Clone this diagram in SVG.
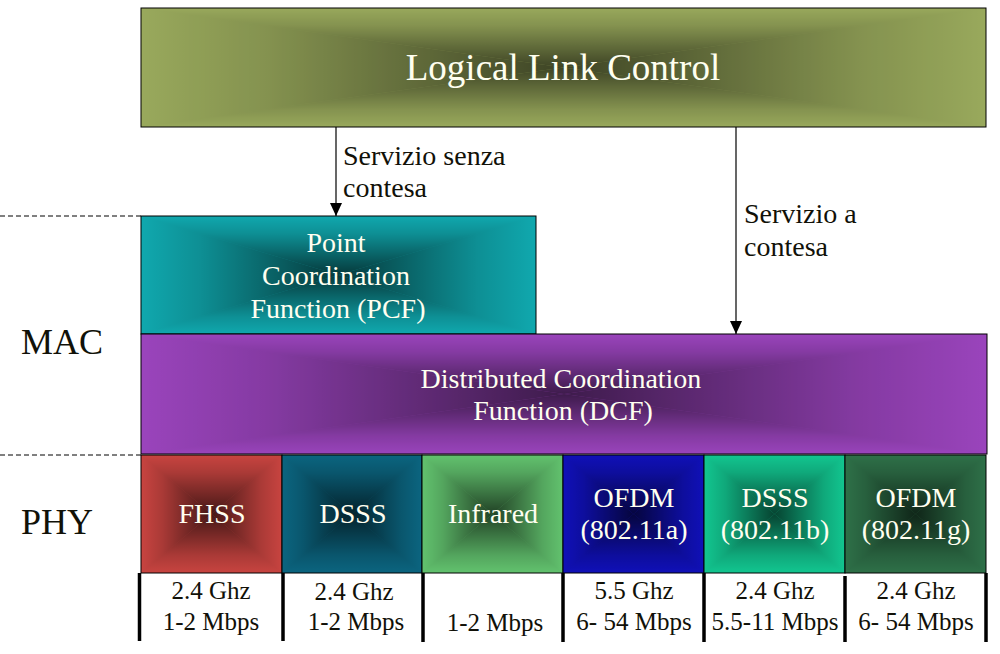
<svg xmlns="http://www.w3.org/2000/svg" width="1000" height="654" viewBox="0 0 1000 654" font-family="Liberation Serif, Times New Roman, serif">
<style>
.box{stroke:#000;stroke-width:1;fill:none}
.lt{fill:#fffff0;text-anchor:middle}
.dk{fill:#111108}
.bt{fill:#111108;text-anchor:middle;font-size:25px}
.sep{stroke:#000;stroke-width:3.5}
.dash{stroke:#000;stroke-width:1;stroke-dasharray:5,3}
.conn{stroke:#000;stroke-width:1.2;fill:none}
</style>
<defs>
<linearGradient id="gT" x1="0" y1="0" x2="0" y2="1"><stop offset="0" stop-color="#000" stop-opacity="0"/><stop offset="0.3" stop-color="#000" stop-opacity="0.15"/><stop offset="1" stop-color="#000" stop-opacity="0.66"/></linearGradient>
<linearGradient id="gB" x1="0" y1="1" x2="0" y2="0"><stop offset="0" stop-color="#000" stop-opacity="0"/><stop offset="0.3" stop-color="#000" stop-opacity="0.15"/><stop offset="1" stop-color="#000" stop-opacity="0.66"/></linearGradient>
<linearGradient id="gL" x1="0" y1="0" x2="1" y2="0"><stop offset="0" stop-color="#000" stop-opacity="0"/><stop offset="0.3" stop-color="#000" stop-opacity="0.15"/><stop offset="1" stop-color="#000" stop-opacity="0.66"/></linearGradient>
<linearGradient id="gR" x1="1" y1="0" x2="0" y2="0"><stop offset="0" stop-color="#000" stop-opacity="0"/><stop offset="0.3" stop-color="#000" stop-opacity="0.15"/><stop offset="1" stop-color="#000" stop-opacity="0.66"/></linearGradient>
<marker id="arr" markerWidth="14" markerHeight="12" refX="13" refY="6" orient="auto" markerUnits="userSpaceOnUse" viewBox="0 0 14 12">
<path d="M0,0 L13,6 L0,12 Z" fill="#000"/>
</marker>
</defs>
<rect width="1000" height="654" fill="#fff"/>

<g id="llc">
<rect x="141" y="8" width="845" height="119" fill="#99a95c"/>
<g opacity="0.9">
<polygon points="141,8 986,8 563.5,67.5" fill="url(#gT)"/>
<polygon points="141,127 986,127 563.5,67.5" fill="url(#gB)"/>
<polygon points="141,8 141,127 563.5,67.5" fill="url(#gL)"/>
<polygon points="986,8 986,127 563.5,67.5" fill="url(#gR)"/>
</g>
<rect class="box" x="141" y="8" width="845" height="119"/>
<text class="lt" x="563" y="80" font-size="37">Logical Link Control</text>
</g>

<g id="pcf">
<rect x="141" y="216" width="395" height="118" fill="#10a8ae"/>
<polygon points="141,216 536,216 338.5,275" fill="url(#gT)"/>
<polygon points="141,334 536,334 338.5,275" fill="url(#gB)"/>
<polygon points="141,216 141,334 338.5,275" fill="url(#gL)"/>
<polygon points="536,216 536,334 338.5,275" fill="url(#gR)"/>
<rect class="box" x="141" y="216" width="395" height="118"/>
<text class="lt" x="336" y="252" font-size="28">Point</text>
<text class="lt" x="336" y="285" font-size="28">Coordination</text>
<text class="lt" x="338" y="318" font-size="28">Function (PCF)</text>
</g>

<g id="dcf">
<rect x="141" y="334" width="846" height="120" fill="#9a44bc"/>
<g opacity="0.9">
<polygon points="141,334 987,334 564,394" fill="url(#gT)"/>
<polygon points="141,454 987,454 564,394" fill="url(#gB)"/>
<polygon points="141,334 141,454 564,394" fill="url(#gL)"/>
<polygon points="987,334 987,454 564,394" fill="url(#gR)"/>
</g>
<rect class="box" x="141" y="334" width="846" height="120"/>
<text class="lt" x="561" y="388" font-size="28">Distributed Coordination</text>
<text class="lt" x="563" y="420" font-size="28">Function (DCF)</text>
</g>

<g id="fhss">
<rect x="141" y="455" width="141" height="118" fill="#c84440"/>
<polygon points="141,455 282,455 211.5,514" fill="url(#gT)"/>
<polygon points="141,573 282,573 211.5,514" fill="url(#gB)"/>
<polygon points="141,455 141,573 211.5,514" fill="url(#gL)"/>
<polygon points="282,455 282,573 211.5,514" fill="url(#gR)"/>
<rect class="box" x="141" y="455" width="141" height="118"/>
<text class="lt" x="212" y="523" font-size="28">FHSS</text>
</g>

<g id="dsss">
<rect x="282" y="455" width="140" height="118" fill="#0b6580"/>
<polygon points="282,455 422,455 352,514" fill="url(#gT)"/>
<polygon points="282,573 422,573 352,514" fill="url(#gB)"/>
<polygon points="282,455 282,573 352,514" fill="url(#gL)"/>
<polygon points="422,455 422,573 352,514" fill="url(#gR)"/>
<rect class="box" x="282" y="455" width="140" height="118"/>
<text class="lt" x="353" y="523" font-size="28">DSSS</text>
</g>

<g id="infrared">
<rect x="422" y="455" width="141" height="118" fill="#62c26e"/>
<polygon points="422,455 563,455 492.5,514" fill="url(#gT)"/>
<polygon points="422,573 563,573 492.5,514" fill="url(#gB)"/>
<polygon points="422,455 422,573 492.5,514" fill="url(#gL)"/>
<polygon points="563,455 563,573 492.5,514" fill="url(#gR)"/>
<rect class="box" x="422" y="455" width="141" height="118"/>
<text class="lt" x="493" y="523" font-size="28">Infrared</text>
</g>

<g id="ofdm-a">
<rect x="563" y="455" width="141" height="118" fill="#1010b8"/>
<polygon points="563,455 704,455 633.5,514" fill="url(#gT)"/>
<polygon points="563,573 704,573 633.5,514" fill="url(#gB)"/>
<polygon points="563,455 563,573 633.5,514" fill="url(#gL)"/>
<polygon points="704,455 704,573 633.5,514" fill="url(#gR)"/>
<rect class="box" x="563" y="455" width="141" height="118"/>
<text class="lt" x="634" y="507" font-size="28">OFDM</text>
<text class="lt" x="634" y="539" font-size="28">(802.11a)</text>
</g>

<g id="dsss-b">
<rect x="704" y="455" width="141" height="118" fill="#12c690"/>
<polygon points="704,455 845,455 774.5,514" fill="url(#gT)"/>
<polygon points="704,573 845,573 774.5,514" fill="url(#gB)"/>
<polygon points="704,455 704,573 774.5,514" fill="url(#gL)"/>
<polygon points="845,455 845,573 774.5,514" fill="url(#gR)"/>
<rect class="box" x="704" y="455" width="141" height="118"/>
<text class="lt" x="775" y="507" font-size="28">DSSS</text>
<text class="lt" x="775" y="539" font-size="28">(802.11b)</text>
</g>

<g id="ofdm-g">
<rect x="845" y="455" width="141" height="118" fill="#2e7048"/>
<polygon points="845,455 986,455 915.5,514" fill="url(#gT)"/>
<polygon points="845,573 986,573 915.5,514" fill="url(#gB)"/>
<polygon points="845,455 845,573 915.5,514" fill="url(#gL)"/>
<polygon points="986,455 986,573 915.5,514" fill="url(#gR)"/>
<rect class="box" x="845" y="455" width="141" height="118"/>
<text class="lt" x="916" y="507" font-size="28">OFDM</text>
<text class="lt" x="916" y="539" font-size="28">(802.11g)</text>
</g>

<g id="rates">
<line class="sep" x1="139.5" y1="573" x2="139.5" y2="641"/>
<line class="sep" x1="283" y1="573" x2="283" y2="641"/>
<line class="sep" x1="423" y1="573" x2="423" y2="642"/>
<line class="sep" x1="563" y1="573" x2="563" y2="642"/>
<line class="sep" x1="704" y1="573" x2="704" y2="642"/>
<line class="sep" x1="845" y1="576" x2="845" y2="642"/>
<line class="sep" x1="986" y1="573" x2="986" y2="642"/>
<text class="bt" x="211" y="599">2.4 Ghz</text>
<text class="bt" x="211" y="630">1-2 Mbps</text>
<text class="bt" x="354" y="600">2.4 Ghz</text>
<text class="bt" x="356" y="630">1-2 Mbps</text>
<text class="bt" x="495" y="631">1-2 Mbps</text>
<text class="bt" x="634" y="599">5.5 Ghz</text>
<text class="bt" x="634" y="630">6- 54 Mbps</text>
<text class="bt" x="775" y="599">2.4 Ghz</text>
<text class="bt" x="775" y="630">5.5-11 Mbps</text>
<text class="bt" x="916" y="599">2.4 Ghz</text>
<text class="bt" x="916" y="630">6- 54 Mbps</text>
</g>

<g id="layers">
<line class="dash" x1="0" y1="216" x2="141" y2="216"/>
<line class="dash" x1="0" y1="455" x2="141" y2="455"/>
<text class="dk" x="21" y="354" font-size="36">MAC</text>
<text class="dk" x="21" y="534" font-size="36">PHY</text>
</g>

<g id="connectors">
<line class="conn" x1="336" y1="127" x2="336" y2="216" marker-end="url(#arr)"/>
<line class="conn" x1="736" y1="127" x2="736" y2="334" marker-end="url(#arr)"/>
<text class="dk" x="343" y="165" font-size="28">Servizio senza</text>
<text class="dk" x="343" y="197" font-size="28">contesa</text>
<text class="dk" x="744" y="223" font-size="28">Servizio a</text>
<text class="dk" x="744" y="256" font-size="28">contesa</text>
</g>
</svg>
